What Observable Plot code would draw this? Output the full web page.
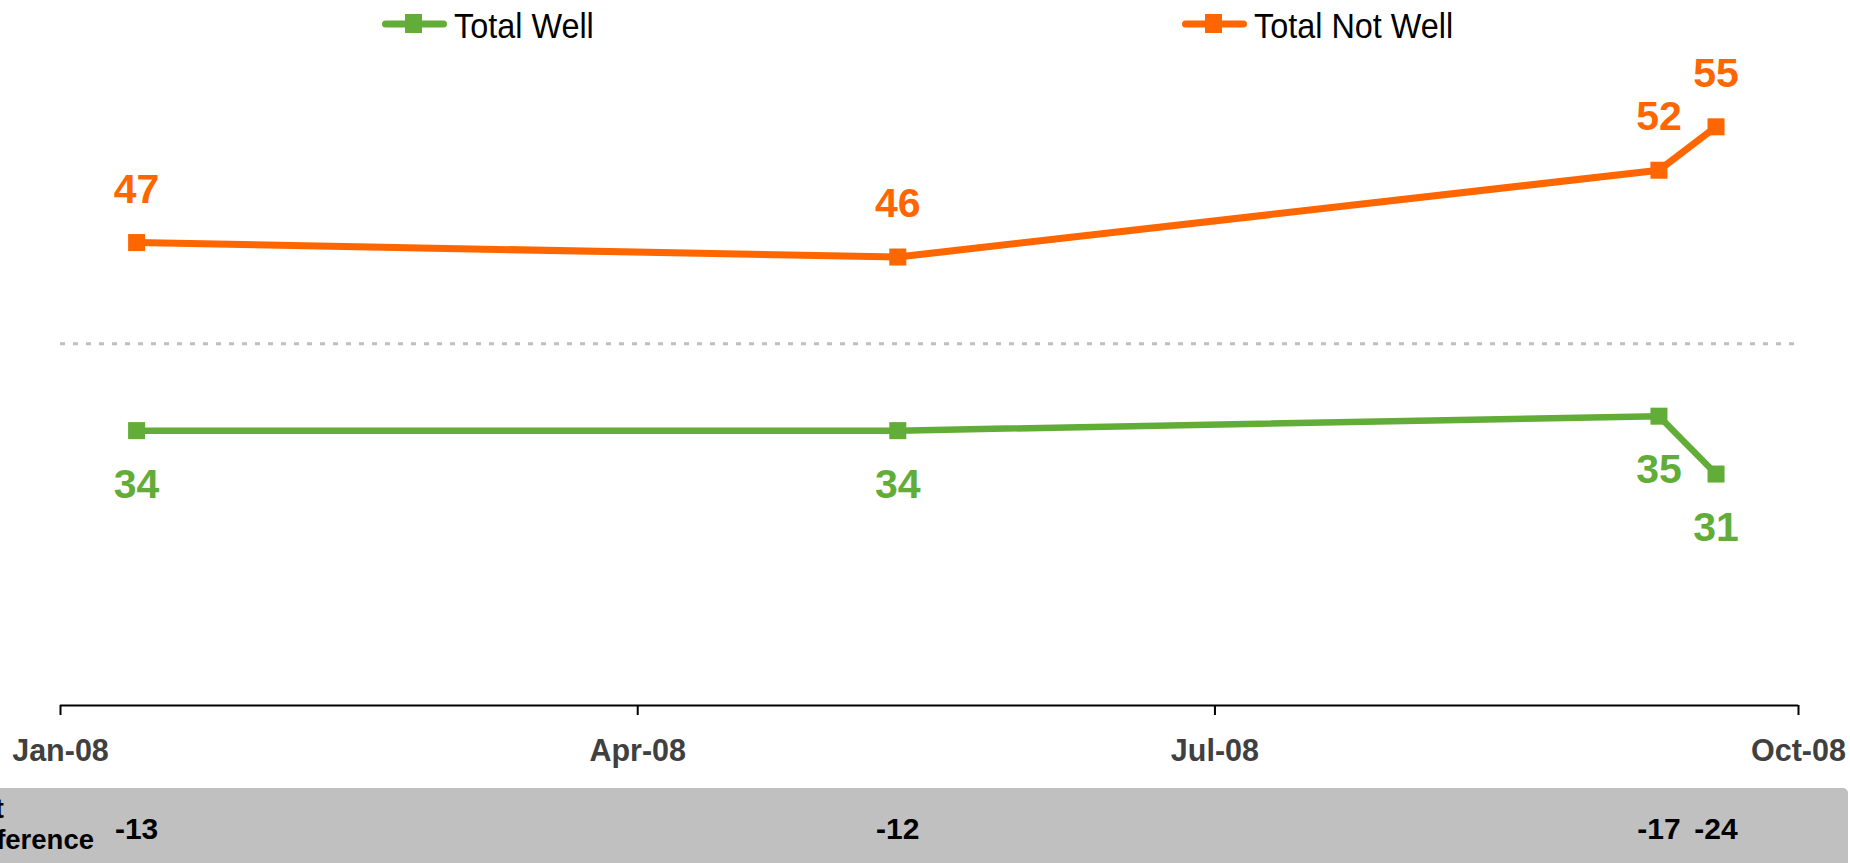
<!DOCTYPE html>
<html>
<head>
<meta charset="utf-8">
<script src="https://cdn.jsdelivr.net/npm/d3@7"></script>
<script src="https://cdn.jsdelivr.net/npm/@observablehq/plot@0.6"></script>
<style>
  html, body { margin: 0; padding: 0; background: #ffffff; overflow: hidden; }
  body { font-family: "Liberation Sans", Arial, sans-serif; }
  #legend svg, #chart svg { display: block; }
</style>
</head>
<body>
<div id="legend"></div>
<div id="chart"></div>
<script>
// ---- data ----
const surveyDates = ["2008-01-13", "2008-05-12", "2008-09-09", "2008-09-18"];
const totalWell = [34, 34, 35, 31];
const totalNotWell = [47, 46, 52, 55];
const netDifference = [-13, -12, -17, -24];
const tickDates = ["2008-01-01", "2008-04-01", "2008-07-01", "2008-10-01"];
const seriesNames = ["Total Well", "Total Not Well"];
const seriesColors = ["#62AC38", "#FF6600"];
const referenceLevel = 40;
const yDomain = [15, 60];
const netLabel = "Net\nDifference";

// ---- tables built from the arrays ----
const wellRows = surveyDates.map((d, i) => ({date: new Date(d), value: totalWell[i]}));
const notWellRows = surveyDates.map((d, i) => ({date: new Date(d), value: totalNotWell[i]}));
const netRows = surveyDates.map((d, i) => ({date: new Date(d), value: netDifference[i]}));
const ticks = tickDates.map(d => new Date(d));

const FONT = "'Liberation Sans', Arial, sans-serif";

// ---- legend (above the plot) ----
const legendX = [382, 1182];
const leg = d3.select("#legend").append("svg")
  .attr("width", 1850).attr("height", 48)
  .style("font-family", FONT);
seriesNames.forEach((name, i) => {
  const g = leg.append("g").attr("transform", `translate(${legendX[i]},24)`);
  g.append("line").attr("x1", 3.5).attr("x2", 61.5).attr("y1", 0).attr("y2", 0)
    .attr("stroke", seriesColors[i]).attr("stroke-width", 7).attr("stroke-linecap", "round");
  g.append("rect").attr("x", 23).attr("y", -10).attr("width", 17).attr("height", 19)
    .attr("fill", seriesColors[i]);
  g.append("text").attr("transform", "scale(0.9,1)").attr("x", 80).attr("y", 14)
    .attr("font-size", 36).attr("fill", "#000").text(name);
});

// ---- plot ----
const green = seriesColors[0], orange = seriesColors[1];
const plot = Plot.plot({
  width: 1850,
  height: 815,
  marginTop: 6,
  marginBottom: 158,
  marginLeft: 60,
  marginRight: 52,
  style: {fontFamily: FONT, background: "transparent", overflow: "visible"},
  x: {type: "utc", domain: [ticks[0], ticks[ticks.length - 1]]},
  y: {domain: yDomain, axis: null},
  marks: [
    Plot.ruleY([referenceLevel], {stroke: "#BFBFBF", strokeWidth: 3, strokeDasharray: "5,8"}),
    Plot.ruleY([yDomain[0]], {stroke: "#000", strokeWidth: 2}),
    Plot.axisX({
      ticks: ticks,
      tickFormat: d3.utcFormat("%b-%y"),
      tickSize: 10,
      tickPadding: 24,
      stroke: "#000",
      strokeWidth: 2,
      fill: "#404040",
      fontSize: 30.5,
      fontWeight: "bold",
      label: null
    }),
    Plot.line(notWellRows, {x: "date", y: "value", stroke: orange, strokeWidth: 7}),
    Plot.line(wellRows, {x: "date", y: "value", stroke: green, strokeWidth: 6.5}),
    Plot.dot(notWellRows, {x: "date", y: "value", symbol: "square", r: 9.6, fill: orange, stroke: null}),
    Plot.dot(wellRows, {x: "date", y: "value", symbol: "square", r: 9.6, fill: green, stroke: null}),
    Plot.text(notWellRows, {x: "date", y: "value", text: d => String(d.value), dy: -53,
      fill: orange, fontSize: 41, fontWeight: "bold", lineAnchor: "middle"}),
    Plot.text(wellRows, {x: "date", y: "value", text: d => String(d.value), dy: 54,
      fill: green, fontSize: 41, fontWeight: "bold", lineAnchor: "middle"}),
    Plot.text(netRows, {x: "date", text: d => String(d.value), frameAnchor: "bottom", dy: 124,
      fill: "#000", fontSize: 30, fontWeight: "bold", lineAnchor: "middle"}),
    Plot.text([netLabel], {frameAnchor: "bottom-left", dx: -101, dy: 118, textAnchor: "start",
      lineAnchor: "middle", lineHeight: 1.13, fill: "#000", fontSize: 27.5, fontWeight: "bold"})
  ]
});

// grey band behind the net-difference row
d3.select(plot).insert("rect", ":first-child")
  .attr("x", -10).attr("y", 740).attr("width", 1858).attr("height", 90)
  .attr("rx", 5).attr("fill", "#C0C0C0");

document.getElementById("chart").appendChild(plot);
</script>
</body>
</html>
